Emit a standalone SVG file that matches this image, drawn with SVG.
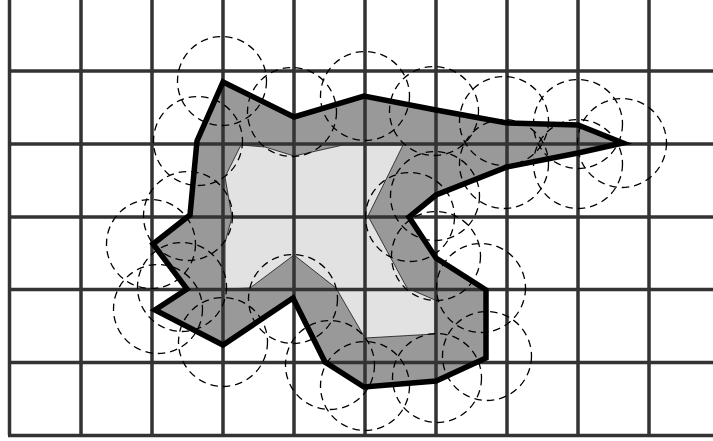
<svg xmlns="http://www.w3.org/2000/svg" width="713" height="441" viewBox="0 0 713 441">
<style>
.g{stroke:#333;stroke-width:3.500;fill:none}
.c{fill:none;stroke:#000;stroke-width:1.300;stroke-dasharray:7.500 5}
</style>
<rect width="713" height="441" fill="#fff"/>
<polygon fill="#999" points="223,82 294,117 364,96 436,110 507,123 578,125 623,143 578,153 507,167 436,195 409,217 436,258 486,290 486,358 436,381 364,387 325,362 293,298 223,345 155,310 187,289 153,244 190,215 197,141"/>
<polygon fill="#e2e2e2" stroke="#000" stroke-width="0.7" points="241,145 265,147 294,156 343,145 403,145 368,216 400,275 407,288 435,300 435,334 365,338 336,288 294,255 250,288 225,289 225,243 232,217 225,177"/>
<g id="grid" class="g">
<path d="M9.500 0V435M81 0V435M152 0V435M223 0V435M294 0V435M365 0V435M436 0V435M507 0V435M578 0V435M649 0V435"/>
<path d="M8 71H713M8 144H713M8 217H713M8 289.500H713M8 362.500H713M8 435.500H713"/>
</g>
<polygon fill="none" stroke="#000" stroke-width="5.500" stroke-linejoin="miter" stroke-miterlimit="4" points="223,82 294,117 364,96 436,110 507,123 578,125 623,143 578,153 507,167 436,195 409,217 436,258 486,290 486,358 436,381 364,387 325,362 293,298 223,345 155,310 187,289 153,244 190,215 197,141"/>
<g id="circles" class="c">
<circle cx="222" cy="81" r="44.500"/><circle cx="198" cy="141" r="44.500"/><circle cx="188" cy="216" r="44.500"/><circle cx="151" cy="244" r="44.500"/><circle cx="182" cy="287" r="44.500"/><circle cx="158" cy="309" r="44.500"/><circle cx="223" cy="342" r="44.500"/><circle cx="293" cy="299" r="44.500"/><circle cx="330" cy="365" r="44.500"/><circle cx="365" cy="386" r="44.500"/><circle cx="437" cy="378" r="44.500"/><circle cx="487" cy="356" r="44.500"/><circle cx="481" cy="288" r="44.500"/><circle cx="436" cy="256" r="44.500"/><circle cx="410" cy="217" r="44.500"/><circle cx="435" cy="196" r="44.500"/><circle cx="504" cy="164" r="44.500"/><circle cx="578" cy="164" r="44.500"/><circle cx="622" cy="143" r="44.500"/><circle cx="578" cy="124" r="44.500"/><circle cx="504" cy="121" r="44.500"/><circle cx="434" cy="111" r="44.500"/><circle cx="365" cy="96" r="44.500"/><circle cx="292" cy="112" r="44.500"/>
</g>
</svg>
